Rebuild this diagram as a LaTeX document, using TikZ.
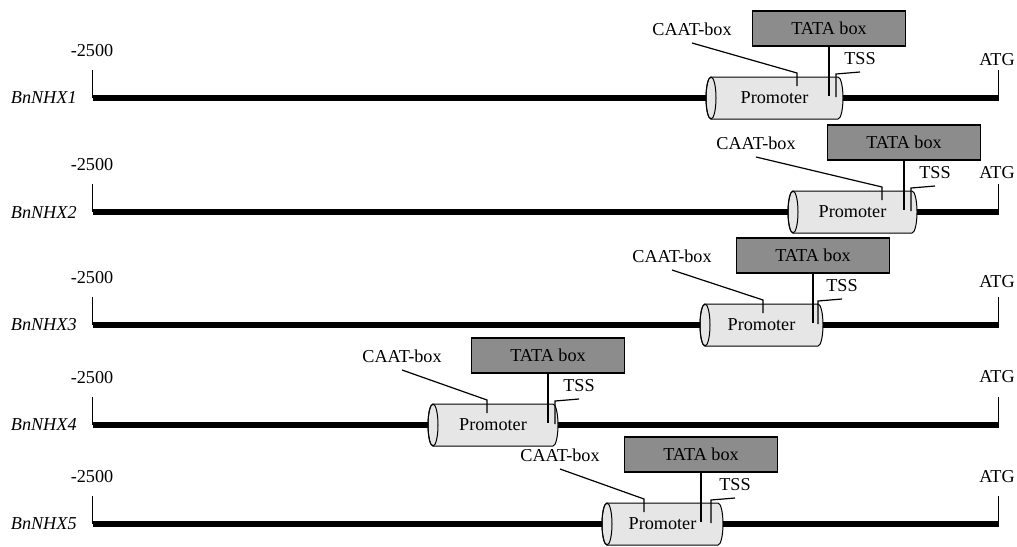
\documentclass[tikz,border=0pt]{standalone}
\usepackage{fontspec}
\setmainfont{Liberation Serif}
\usetikzlibrary{positioning,calc}
\definecolor{promofill}{HTML}{E6E6E6}
\definecolor{tatafill}{HTML}{8C8C8C}

\begin{document}
\begin{tikzpicture}[x=0.5pt,y=-0.5pt,font=\fontsize{9.1}{11}\selectfont,
    gene/.style={line width=3pt},
    tick/.style={line width=0.6pt},
    link/.style={line width=0.6pt},
    promo/.style={draw, line width=0.5pt, fill=promofill},
    tatabox/.style={draw, line width=0.75pt, fill=tatafill, minimum width=76.5pt, minimum height=17.5pt, inner sep=0pt},
    txt/.style={inner sep=1pt}]
  \useasboundingbox (0,0) rectangle (1017,546);
  \foreach \n/\y/\L/\R/\tata/\caat/\cend/\tss/\atg in
      {1/98/711/838/829/797/692/836/38, 2/212/793/912/904/882/756/911/39,
       3/325/705/818/813/763/672/818/43, 4/425/433/553/548/487/402/555/48,
       5/524/607/718/701/644/560/711/47}{
    \coordinate (start\n) at (92.5,\y);
    \coordinate (end\n) at (998.5,\y);
    \coordinate (ltop\n) at (92.5,\y-28);
    \coordinate (rtop\n) at (998.5,\y-28);
    \draw[gene] (start\n) -- (end\n);
    \draw[tick] (ltop\n) -- (start\n);
    \draw[tick] (rtop\n) -- (end\n);
    \node[txt, anchor=east, font=\fontsize{9.1}{11}\selectfont\itshape] (gene\n) at (79,\y) {BnNHX\n};
    \node[txt] (pos\n) at (92,\y-47) {-2500};
    \node[txt] (atg\n) at (997,\y-\atg) {ATG};
    \draw[promo] (\L,\y-21) -- (\R,\y-21)
      arc[start angle=90, end angle=-90, x radius=2.5pt, y radius=10.5pt]
      -- (\L,\y+21)
      arc[start angle=270, end angle=90, x radius=2.5pt, y radius=10.5pt] -- cycle;
    \draw[line width=0.5pt] (\L,\y) ellipse[x radius=2.5pt, y radius=10.5pt];
    \node[txt] (prom\n) at ({(\L+\R)/2},\y) {Promoter};
    \node[tatabox] (tata\n) at (\tata,\y-69.5) {TATA box};
    \coordinate (tatafoot\n) at (\tata,\y-2);
    \draw[link] (tata\n.south) -- (tatafoot\n);
    \coordinate (tssfoot\n) at (\tss,\y-1);
    \coordinate (tsstop\n) at (\tss,\y-24);
    \coordinate (tssend\n) at (\tss+24,\y-26);
    \draw[link] (tssfoot\n) -- (tsstop\n) -- (tssend\n);
    \node[anchor=south] (tsslab\n) at (tssend\n) {TSS};
    \coordinate (caatfoot\n) at (\caat,\y-12);
    \coordinate (caattop\n) at (\caat,\y-25);
    \coordinate (caatend\n) at (\cend,\y-55);
    \draw[link] (caatfoot\n) -- (caattop\n) -- (caatend\n);
    \node[anchor=south] (caat\n) at (caatend\n) {CAAT-box};
  }
\end{tikzpicture}
\end{document}
